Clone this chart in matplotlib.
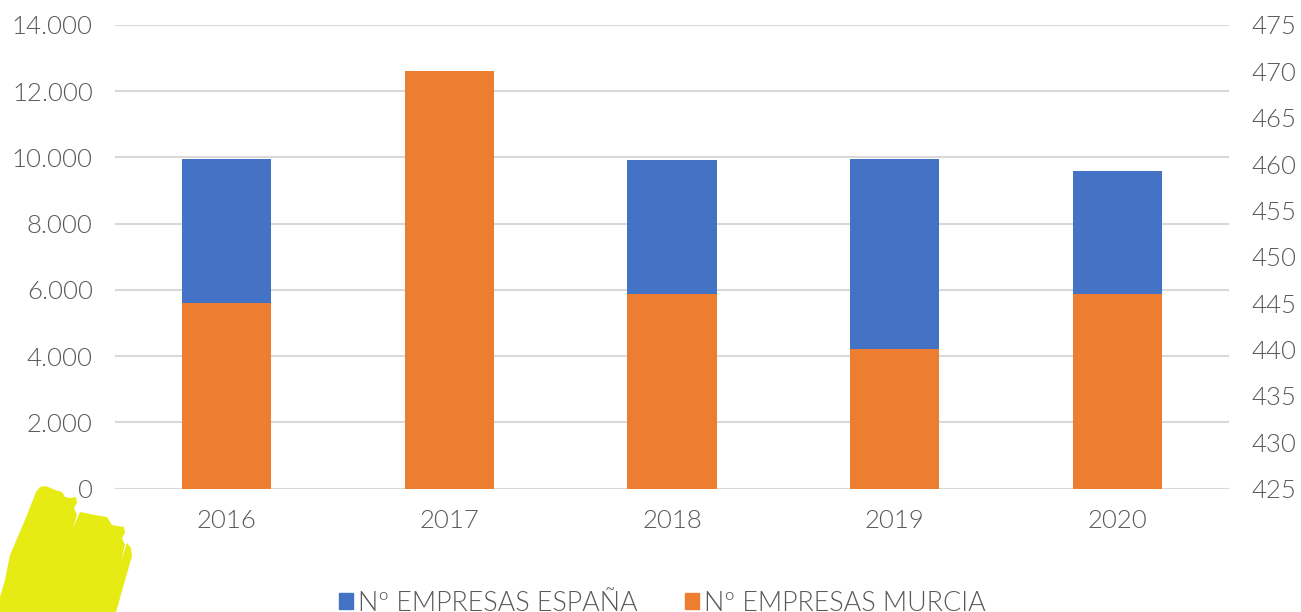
import matplotlib
matplotlib.use("Agg")
import matplotlib.pyplot as plt
from matplotlib import font_manager as fm
from matplotlib.patches import Polygon, Patch

years = ["2016", "2017", "2018", "2019", "2020"]
espana = [9960, 10000, 9920, 9950, 9590]
murcia = [445, 470, 446, 440, 446]
left_ticks = [0, 2000, 4000, 6000, 8000, 10000, 12000, 14000]
left_labels = ["0", "2.000", "4.000", "6.000", "8.000", "10.000", "12.000", "14.000"]
right_ticks = [425, 430, 435, 440, 445, 450, 455, 460, 465, 470, 475]
names = ["Nº EMPRESAS ESPAÑA", "Nº EMPRESAS MURCIA"]

BLUE, ORANGE, GREY, GRID = "#4472C4", "#ED7D31", "#595959", "#D9D9D9"
W, H = 1301, 612

# Use the Light cut of Lato by file (the name lookup picks Hairline)
light = [f.fname for f in fm.fontManager.ttflist
         if f.fname.endswith(("Lato-Light.ttf", "Lato-Light.otf"))]
if light:
    tick_fp = fm.FontProperties(fname=light[0], size=18.5)
    leg_fp = fm.FontProperties(fname=light[0], size=19.4)
else:
    tick_fp = fm.FontProperties(family="Lato", weight="normal", size=18.5)
    leg_fp = fm.FontProperties(family="Lato", weight="normal", size=19.4)

fig = plt.figure(figsize=(W / 100, H / 100), dpi=100)
ax = fig.add_axes([115 / W, 1 - 488.5 / H, 1114 / W, 463.5 / H])
ax2 = ax.twinx()
x = range(len(years))

ax.bar(x, espana, width=0.40, color=BLUE, zorder=3)
ax2.bar(x, murcia, width=0.40, color=ORANGE, zorder=3)
ax.set_xlim(-0.5, 4.5)
ax.set_ylim(0, 14000)
ax2.set_ylim(425, 475)
ax.set_xticks(list(x), years)
ax.set_yticks(left_ticks, left_labels)
ax2.set_yticks(right_ticks)
ax.grid(axis="y", color=GRID, lw=1.5, zorder=0)
ax.set_axisbelow(True)
for a in (ax, ax2):
    for s in a.spines.values():
        s.set_visible(False)
ax.tick_params(axis="y", length=0, labelcolor=GREY, pad=16)
ax.tick_params(axis="x", length=0, labelcolor=GREY, pad=15)
ax2.tick_params(axis="y", length=0, labelcolor=GREY, pad=16)
for lab in ax.get_xticklabels() + ax.get_yticklabels() + ax2.get_yticklabels():
    lab.set_fontproperties(tick_fp)

handles = [Patch(color=BLUE, label=names[0]), Patch(color=ORANGE, label=names[1])]
fig.legend(handles=handles, ncol=2, frameon=False, prop=leg_fp, labelcolor=GREY,
           loc="lower left", bbox_to_anchor=(334 / W, -9 / H), borderaxespad=0,
           borderpad=0.2, handlelength=0.5, handleheight=0.55, handletextpad=0.2,
           columnspacing=1.75)

# yellow brush-stroke decoration at the lower left corner
blob = [(0, 597), (5, 580), (10, 555), (13, 548), (25, 520), (36, 492), (40, 487), (46, 486),
        (55, 490), (62, 492), (65, 497), (70, 498), (76, 497), (77, 503), (74, 508), (77, 515),
        (73, 528), (80, 512), (95, 515), (107, 517), (112, 525), (124, 527), (125, 533),
        (122, 538), (125, 545), (121, 561), (127, 543), (131, 548), (132, 556), (128, 570),
        (116, 612), (0, 612)]
fig.add_artist(Polygon([(px / W, 1 - py / H) for px, py in blob], closed=True,
                       transform=fig.transFigure, facecolor="#E6EB14", edgecolor="none"))

fig.savefig("out.png", dpi=100)
